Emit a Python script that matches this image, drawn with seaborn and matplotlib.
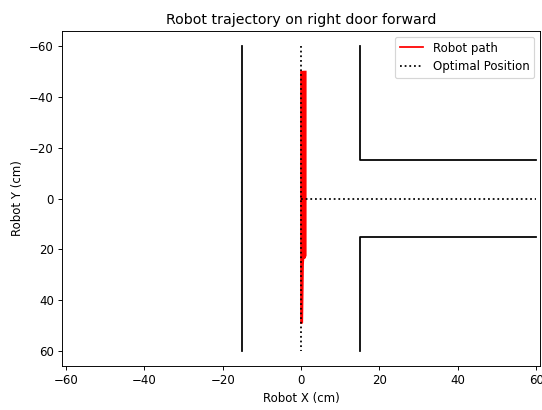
import matplotlib
matplotlib.use("Agg")
import matplotlib.pyplot as plt
import seaborn as sns
import pandas as pd

# Corridor walls (cm)
left_wall_x = [-15, -15]
left_wall_y = [-60, 60]
upper_right_wall_x = [15, 15, 60]
upper_right_wall_y = [-60, -15, -15]
lower_right_wall_x = [15, 15, 60]
lower_right_wall_y = [60, 15, 15]

# Optimal position: down the centre, then into the right door
optimal_main_x = [0, 0]
optimal_main_y = [-60, 60]
optimal_door_x = [0, 60]
optimal_door_y = [0, 0]

# Recorded robot path (cm): repeated passes along the corridor
robot_x = [0.0, 0.0, 0.3, 0.3, 0.5, 0.6, 0.6, 0.9, 0.9, 1.2, 1.2]
robot_y = [49, -50, -50, 49, 26, 24, -50, -50, 23.5, 22.5, -50]

DPI = 84.7
fig = plt.figure(figsize=(542 / DPI, 410 / DPI), dpi=DPI)
ax = fig.add_axes([0.1144, 0.1073, 0.8819, 0.8171])

def seg(x, y, **kw):
    df = pd.DataFrame({"x": x, "y": y})
    sns.lineplot(data=df, x="x", y="y", sort=False, estimator=None, ax=ax, **kw)

seg(robot_x, robot_y, color="red", linewidth=1.5, label="Robot path")
seg(optimal_main_x, optimal_main_y, color="black", linestyle=":", linewidth=1.5,
    label="Optimal Position")
seg(optimal_door_x, optimal_door_y, color="black", linestyle=":", linewidth=1.5)
seg(left_wall_x, left_wall_y, color="black", linewidth=1.5)
seg(upper_right_wall_x, upper_right_wall_y, color="black", linewidth=1.5)
seg(lower_right_wall_x, lower_right_wall_y, color="black", linewidth=1.5)

ax.set_xlim(-61, 61)
ax.set_ylim(66, -66)
ax.set_xticks([-60, -40, -20, 0, 20, 40, 60])
ax.set_yticks([-60, -40, -20, 0, 20, 40, 60])
ax.set_xlabel("Robot X (cm)")
ax.set_ylabel("Robot Y (cm)")
ax.set_title("Robot trajectory on right door forward")
ax.legend(loc="upper right")

fig.savefig("out.png", dpi=DPI)
